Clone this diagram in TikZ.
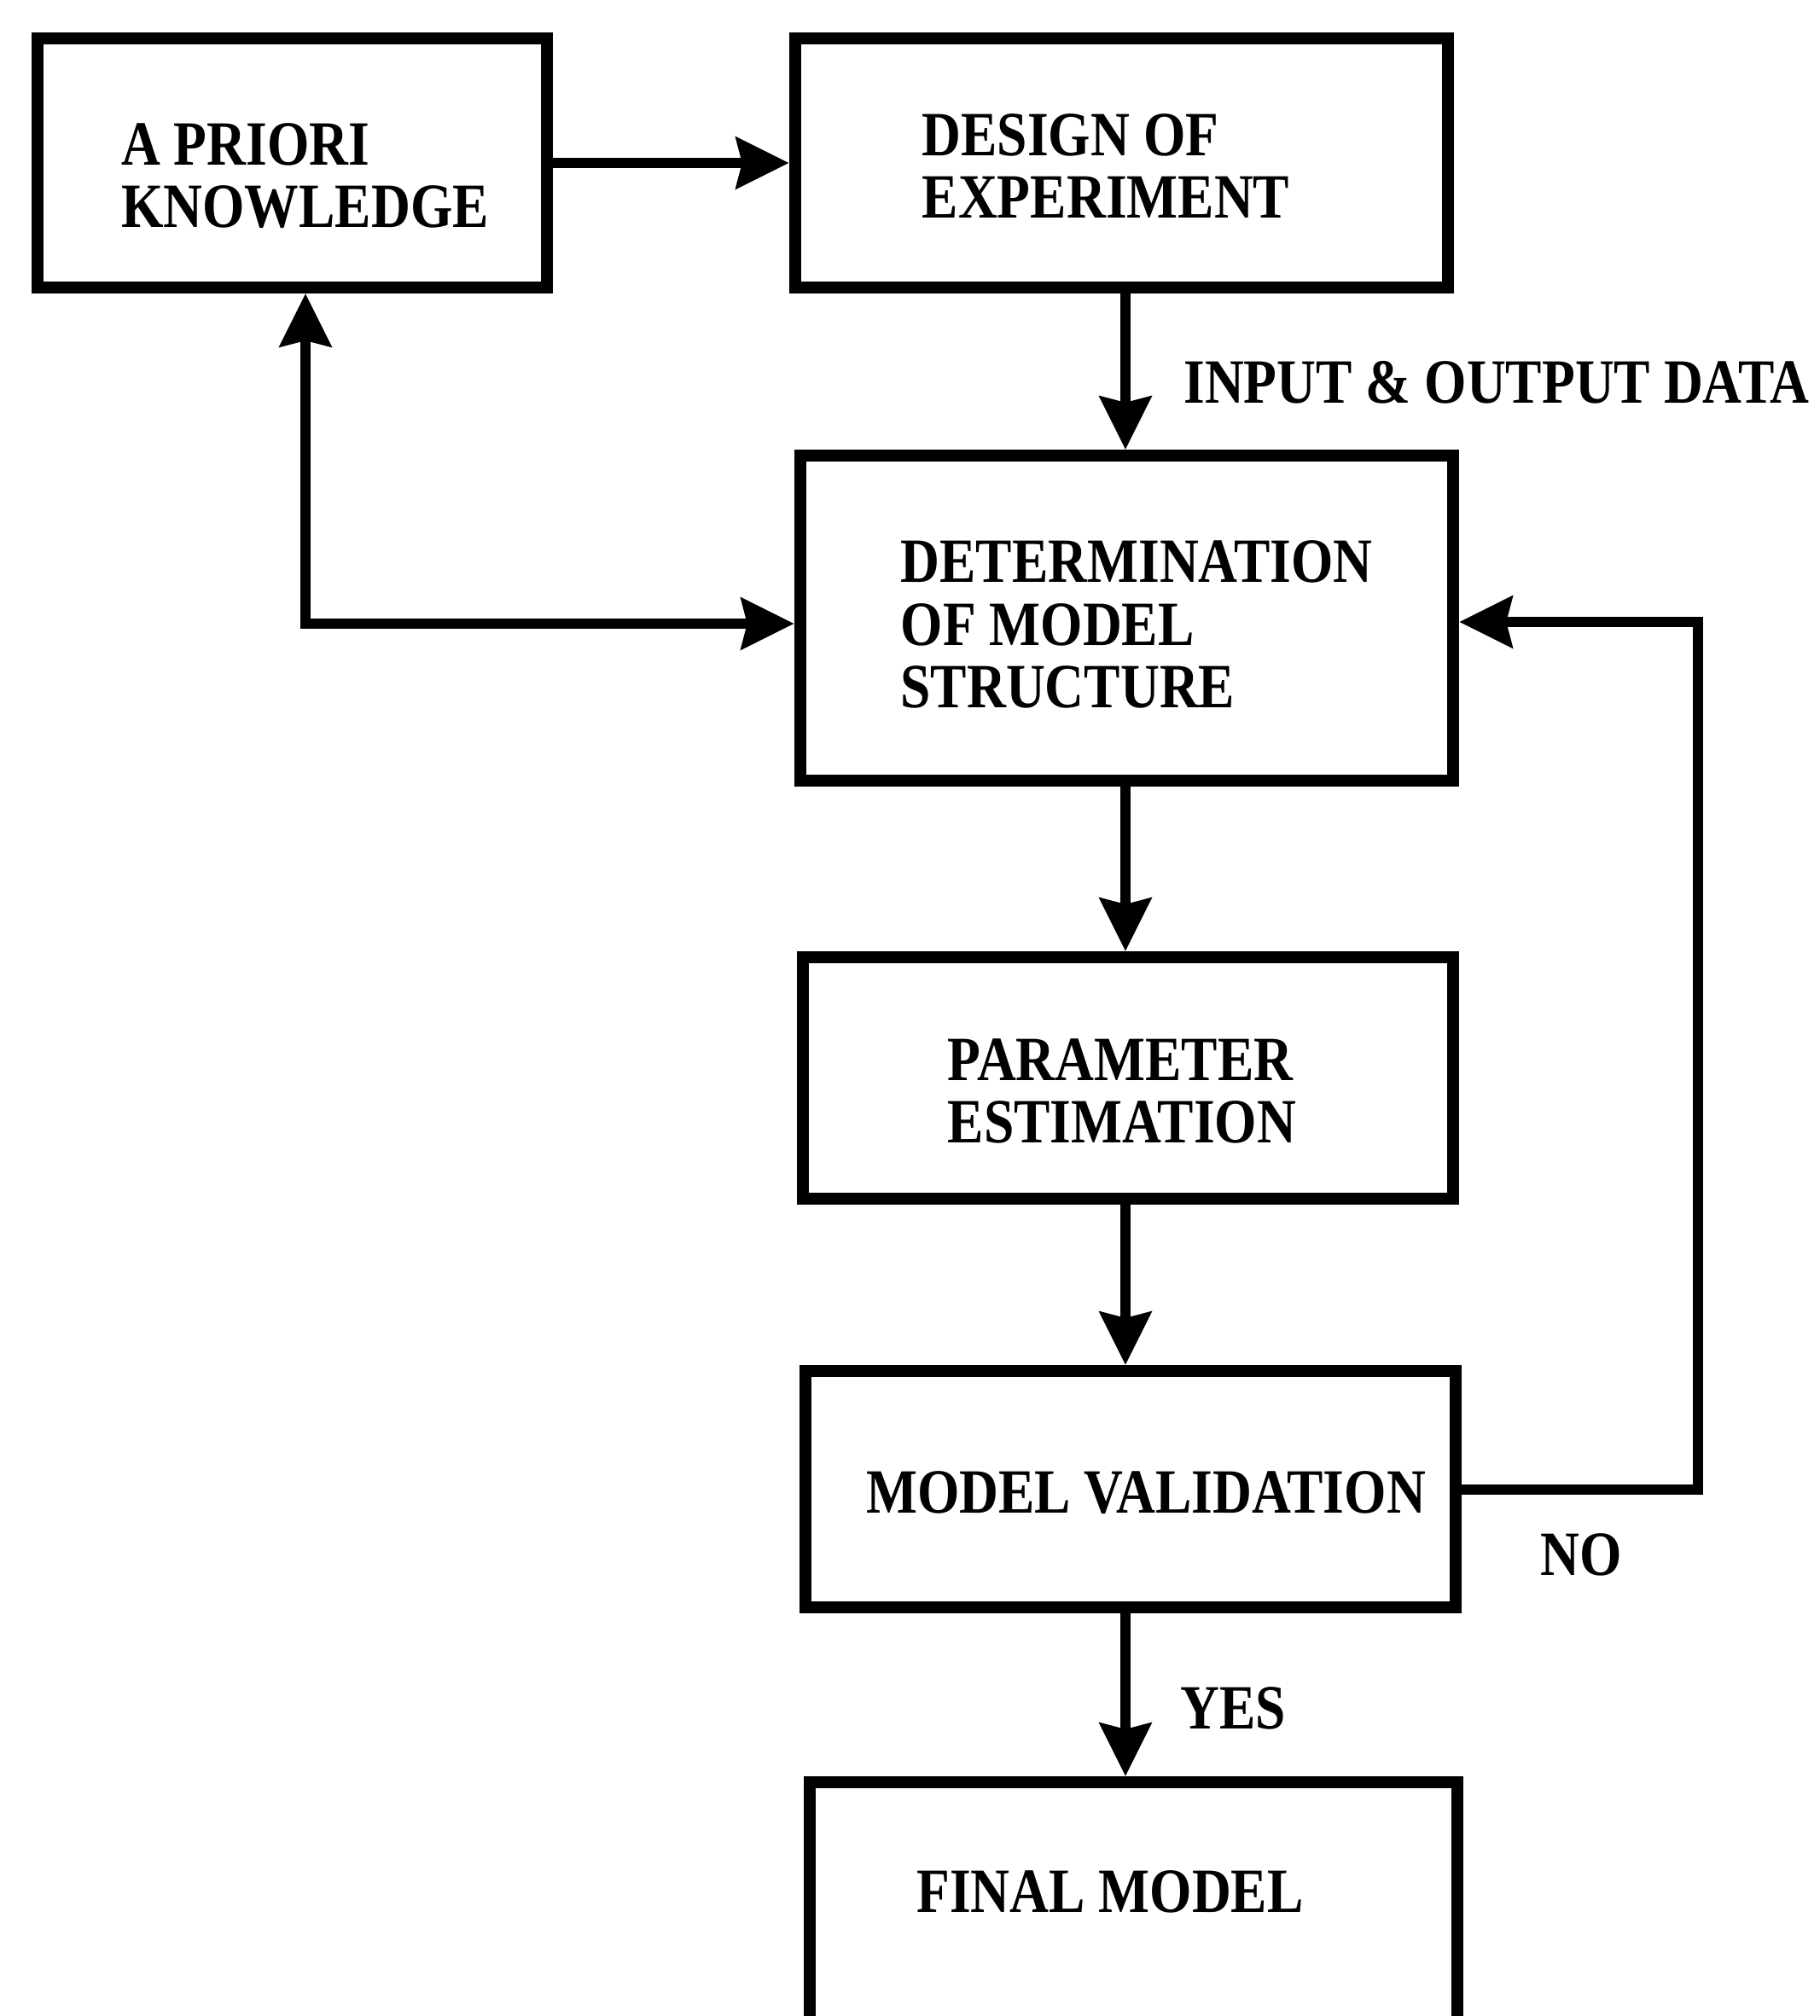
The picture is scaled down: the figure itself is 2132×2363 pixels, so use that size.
\documentclass[tikz,border=0pt]{standalone}
\usepackage{graphicx}
\usepackage{fontspec}
\setmainfont{Liberation Serif}
\usetikzlibrary{arrows.meta}
% condensed bold caps used for every text in the chart
\newcommand\cz[1]{\scalebox{0.86}[1]{#1}}
\tikzset{
  blk/.style={draw, rectangle, line width=0.14cm, inner sep=0pt},
  txt/.style={align=left, inner sep=0pt,
    font=\fontsize{21pt}{20.8pt}\selectfont\bfseries},
  tip/.tip={Stealth[length=0.62cm, width=0.6cm, inset=0.07cm]},
  arr/.style={line width=0.12cm, -tip},
  arrboth/.style={line width=0.12cm, tip-tip},
}
\begin{document}
\begin{tikzpicture}[x=0.01cm, y=-0.01cm]
\useasboundingbox (0,0) rectangle (2132,2363);
\clip (0,0) rectangle (2132,2363);

% blocks
\node[blk, minimum width=5.97cm, minimum height=2.92cm] (A)   at (342.5,191) {};
\node[blk, minimum width=7.65cm, minimum height=2.92cm] (D)   at (1314.5,191) {};
\node[blk, minimum width=7.65cm, minimum height=3.81cm] (Det) at (1320.5,724.5) {};
\node[blk, minimum width=7.62cm, minimum height=2.83cm] (PE)  at (1322,1263.5) {};
\node[blk, minimum width=7.62cm, minimum height=2.77cm] (MV)  at (1325,1745.5) {};
\node[blk, minimum width=7.59cm, minimum height=3.61cm] (FM)  at (1328.5,2269.5) {};

% block texts
\node[txt] (aT)   at (357.5,206)  {\cz{A PRIORI}\\\cz{KNOWLEDGE}};
\node[txt] (dT)   at (1296,194.5) {\cz{DESIGN OF}\\\cz{EXPERIMENT}};
\node[txt] (detT) at (1332,732)   {\cz{DETERMINATION}\\\cz{OF MODEL}\\\cz{STRUCTURE}};
\node[txt] (peT)  at (1315,1279)  {\cz{PARAMETER}\\\cz{ESTIMATION}};
\node[txt] (mvT)  at (1343,1750)  {\cz{MODEL VALIDATION}};
\node[txt] (fmT)  at (1301,2217)  {\cz{FINAL MODEL}};

% connector labels
\node[txt] (io)  at (1754,448)  {\cz{INPUT \& OUTPUT DATA}};
\node[txt] (no)  at (1853,1822) {\cz{NO}};
\node[txt] (yes) at (1445,2002) {\cz{YES}};

% routing points
\coordinate (col)  at (1319,0);
\coordinate (lp)   at (358,731);
\coordinate (fb)   at (1990,729);

% connectors
\draw[arr] (A.east) -- (D.west |- A.east);
\draw[arr] (D.south -| col) -- (Det.north -| col);
\draw[arr] (Det.south -| col) -- (PE.north -| col);
\draw[arr] (PE.south -| col) -- (MV.north -| col);
\draw[arr] (MV.south -| col) -- (FM.north -| col);
\draw[arrboth] (A.south -| lp) |- (Det.west |- lp);
\draw[arr] (MV.east) -| (fb) -- (Det.east |- fb);
\end{tikzpicture}
\end{document}
